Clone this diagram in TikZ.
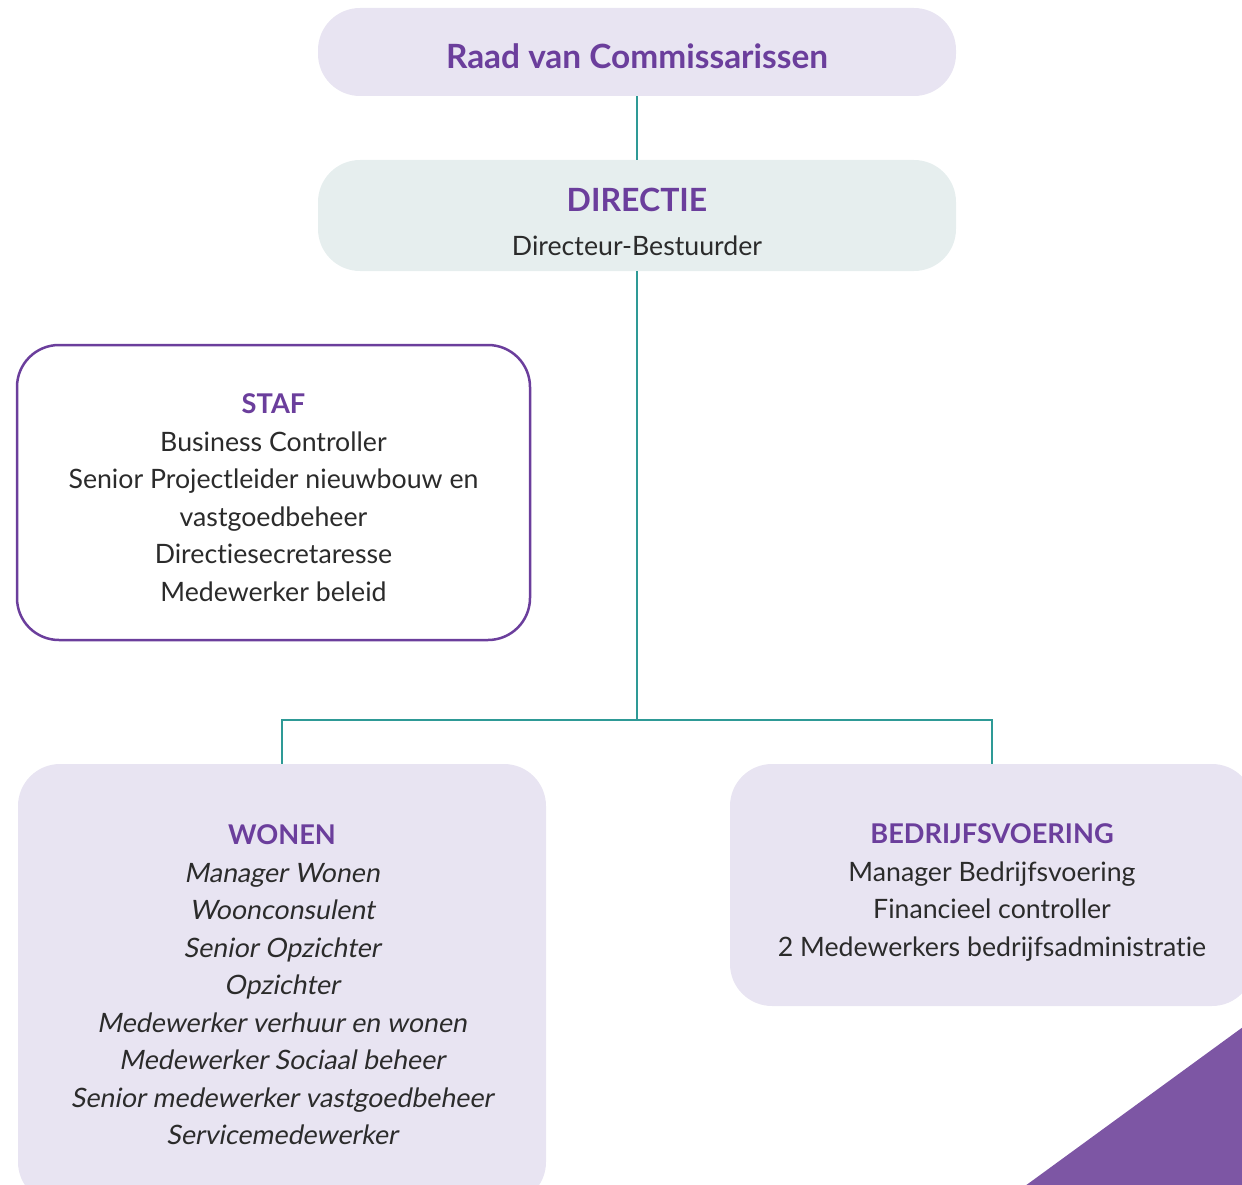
\documentclass[tikz,border=0pt]{standalone}
\usepackage{fontspec}
\setmainfont{Lato}[Ligatures=NoCommon]
\newfontfamily\schuin{Lato}[Ligatures=NoCommon, FakeSlant=0.18]
\usepackage{tikz}

\definecolor{paars}{HTML}{6B3E9C}
\definecolor{lila}{HTML}{E8E4F2}
\definecolor{mint}{HTML}{E6EEEE}
\definecolor{groen}{HTML}{2E9A96}
\definecolor{hoek}{HTML}{7D56A4}
\definecolor{tekst}{HTML}{2B2B2B}

% kopje in paars, met een strut om de tekst in het blok omlaag te zetten
\newcommand{\kop}[2][0pt]{{\color{paars}\bfseries\rule{0pt}{#1}#2}}

\begin{document}
\begin{tikzpicture}[x=1pt, y=-1pt,
		every node/.style = {align=center, inner sep=0pt, text=tekst,
			font=\fontsize{26.7}{37.5}\selectfont},
		blok/.style = {rounded corners=42pt},
		lijn/.style = {draw=groen, line width=2.5pt}]
	\useasboundingbox (0,0) rectangle (1242,1185);
	\clip (0,0) rectangle (1242,1185);

	% bestuur
	\node[blok, fill=lila, minimum width=638pt, minimum height=88pt] (raad) at (637,52)
		{{\fontsize{33.4}{37.5}\selectfont\kop[34pt]{Raad van Commissarissen}}};
	\node[blok, fill=mint, minimum width=638pt, minimum height=111pt] (directie) at (637,215.5)
		{{\fontsize{32}{37.5}\selectfont\kop[36pt]{DIRECTIE}}\\[6pt] Directeur-Bestuurder};

	% staf
	\node[blok, draw=paars, line width=2.5pt, fill=white, minimum width=513pt, minimum height=295pt] (staf) at (273.5,492.5)
		{{\fontsize{27.2}{37.5}\selectfont\kop[30pt]{STAF}}\\
		Business Controller\\
		Senior Projectleider nieuwbouw en\\
		vastgoedbeheer\\
		Directiesecretaresse\\
		Medewerker beleid};

	% afdelingen
	\node[blok, fill=lila, minimum width=528pt, minimum height=440pt] (wonen) at (282,984)
		{{\fontsize{27.2}{37.5}\selectfont\kop[22pt]{WONEN}}\\
		\schuin Manager Wonen\\
		\schuin Woonconsulent\\
		\schuin Senior Opzichter\\
		\schuin Opzichter\\
		\schuin Medewerker verhuur en wonen\\
		\schuin Medewerker Sociaal beheer\\
		\schuin Senior medewerker vastgoedbeheer\\
		\schuin Servicemedewerker};
	\node[blok, fill=lila, minimum width=524pt, minimum height=242pt] (bedrijf) at (992,885)
		{{\fontsize{27.2}{37.5}\selectfont\kop[35pt]{BEDRIJFSVOERING}}\\
		Manager Bedrijfsvoering\\
		Financieel controller\\
		2 Medewerkers bedrijfsadministratie};

	\coordinate (splits) at (637,720);

	\draw[lijn] (raad) -- (directie);
	\draw[lijn] (directie) -- (splits);
	\draw[lijn] (splits) -| (wonen.north);
	\draw[lijn] (splits) -| (bedrijf.north);

	% hoekje rechtsonder
	\fill[hoek] (1025,1186) -- (1243,1027) -- (1243,1186) -- cycle;
\end{tikzpicture}
\end{document}
